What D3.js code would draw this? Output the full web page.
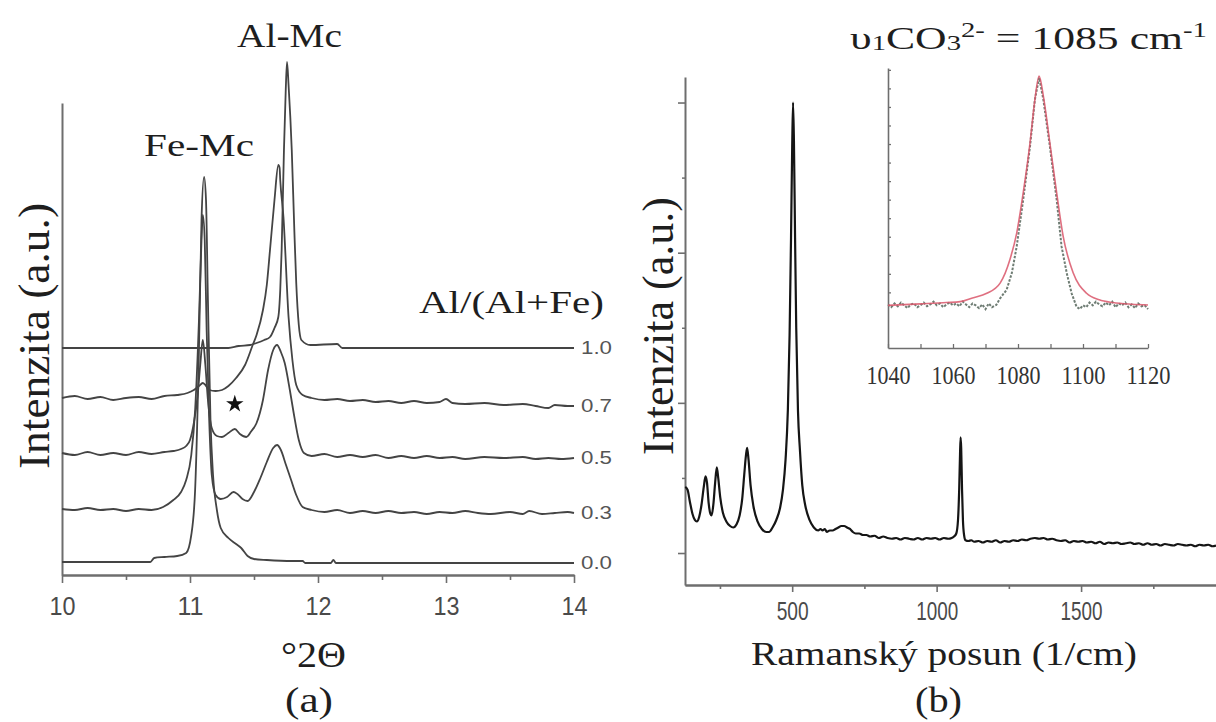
<!DOCTYPE html>
<html><head><meta charset="utf-8">
<script src="https://cdn.jsdelivr.net/npm/d3@7"></script>
<style>body{margin:0;background:#fff}svg{display:block}</style>
</head><body>
<svg id="c" width="1216" height="722"></svg>
<script>
// ---------------- DATA ----------------
// (a) XRD patterns, stacked (a.u.), x = °2Θ
const xrdLabels = ["1.0", "0.7", "0.5", "0.3", "0.0"];
const xrdTicks = [10, 11, 12, 13, 14];
const xrd10 = [[10,2270],[10.5,2270],[11,2270],[11.3,2270],[11.38,2290],[11.47,2300],[11.52,2320],[11.58,2350],[11.625,2380],[11.66,2470],[11.69,2580],[11.705,2850],[11.716,3250],[11.734,4250],[11.748,4850],[11.758,5130],[11.77,4900],[11.795,4250],[11.815,3450],[11.83,2920],[11.85,2500],[11.87,2350],[11.94,2300],[12.15,2310],[12.19,2270],[14,2270]];
const xrd07 = [[10,1770],[10.1,1790],[10.2,1760],[10.3,1780],[10.4,1750],[10.5,1770],[10.6,1780],[10.7,1760],[10.8,1790],[10.9,1800],[10.98,1820],[11.03,1850],[11.07,1890],[11.1,1920],[11.12,1900],[11.15,1850],[11.2,1840],[11.25,1850],[11.3,1890],[11.36,1970],[11.43,2100],[11.49,2300],[11.52,2400],[11.57,2650],[11.6,2900],[11.625,3250],[11.66,3750],[11.69,4100],[11.7,4070],[11.705,3950],[11.73,3580],[11.77,2580],[11.8,2150],[11.83,1900],[11.88,1800],[11.95,1770],[12.05,1750],[12.15,1760],[12.25,1740],[12.35,1750],[12.45,1730],[12.55,1740],[12.65,1720],[12.75,1740],[12.85,1720],[12.95,1730],[13,1760],[13.05,1720],[13.15,1710],[13.3,1720],[13.45,1700],[13.6,1710],[13.7,1690],[13.8,1670],[13.85,1700],[13.95,1690],[14,1690]];
const xrd05 = [[10,1220],[10.1,1200],[10.2,1230],[10.3,1200],[10.4,1220],[10.5,1200],[10.6,1230],[10.7,1210],[10.8,1230],[10.87,1240],[10.93,1260],[10.97,1290],[11,1350],[11.03,1520],[11.06,1800],[11.08,2100],[11.1,2350],[11.12,2100],[11.14,1750],[11.17,1470],[11.21,1390],[11.25,1380],[11.3,1420],[11.35,1460],[11.39,1410],[11.44,1380],[11.48,1440],[11.52,1520],[11.57,1750],[11.61,2050],[11.65,2250],[11.68,2300],[11.71,2230],[11.74,2120],[11.78,1850],[11.81,1620],[11.85,1350],[11.89,1220],[11.95,1190],[12.05,1210],[12.15,1180],[12.25,1200],[12.35,1180],[12.45,1200],[12.55,1170],[12.65,1190],[12.75,1170],[12.85,1190],[12.95,1170],[13.05,1180],[13.15,1160],[13.3,1180],[13.45,1170],[13.6,1180],[13.7,1160],[13.8,1170],[13.9,1160],[14,1170]];
const xrd03 = [[10,660],[10.1,650],[10.2,670],[10.3,650],[10.4,660],[10.5,640],[10.6,660],[10.7,650],[10.79,680],[10.87,750],[10.93,830],[10.97,950],[11.01,1200],[11.04,1650],[11.07,2550],[11.09,3350],[11.1,3600],[11.115,3350],[11.13,2450],[11.15,1550],[11.17,1000],[11.2,800],[11.24,760],[11.29,780],[11.34,830],[11.37,810],[11.41,760],[11.45,740],[11.5,830],[11.55,970],[11.6,1130],[11.65,1270],[11.68,1300],[11.71,1250],[11.75,1100],[11.79,950],[11.83,800],[11.88,680],[11.95,650],[12.05,630],[12.15,650],[12.25,620],[12.35,640],[12.45,620],[12.55,640],[12.65,620],[12.75,630],[12.85,610],[12.95,630],[13.05,620],[13.15,640],[13.25,620],[13.35,610],[13.5,630],[13.6,610],[13.65,640],[13.75,610],[13.85,620],[13.95,630],[14,620]];
const xrd00 = [[10,130],[10.3,130],[10.69,130],[10.72,170],[10.8,180],[10.9,190],[10.97,220],[11.01,400],[11.04,850],[11.07,2250],[11.09,3550],[11.11,3980],[11.125,3750],[11.14,2750],[11.16,1550],[11.18,1000],[11.21,650],[11.24,470],[11.3,370],[11.36,310],[11.4,270],[11.45,190],[11.5,160],[11.6,150],[11.8,140],[11.88,140],[11.9,120],[12.1,120],[12.12,150],[12.14,120],[14,120]];
const xrdSeries = [xrd10, xrd07, xrd05, xrd03, xrd00];
const starAt = [11.35, 1710];

// (b) Raman spectrum: [shift 1/cm, intensity a.u.]
const ramanTicks = [500, 1000, 1500];
const raman = [[130,0.44],[138,0.42],[146,0.34],[155,0.26],[163,0.22],[170,0.21],[178,0.24],[186,0.32],[194,0.44],[200,0.51],[205,0.47],[211,0.33],[217,0.26],[221,0.25],[227,0.32],[233,0.46],[239,0.57],[244,0.5],[251,0.37],[260,0.27],[272,0.21],[285,0.18],[296,0.17],[307,0.19],[318,0.25],[327,0.36],[334,0.52],[340,0.65],[344,0.7],[349,0.62],[356,0.45],[366,0.31],[380,0.21],[395,0.16],[410,0.14],[420,0.14],[432,0.17],[445,0.22],[458,0.3],[468,0.42],[477,0.62],[485,0.95],[491,1.45],[496,2.1],[500,2.7],[503,3.0],[506,2.75],[510,2.1],[514,1.5],[520,0.95],[527,0.68],[535,0.45],[545,0.32],[560,0.22],[575,0.17],[590,0.15],[598,0.16],[605,0.15],[613,0.16],[620,0.14],[630,0.15],[640,0.15],[650,0.16],[660,0.17],[670,0.18],[680,0.18],[690,0.17],[700,0.16],[710,0.14],[720,0.13],[732,0.13],[745,0.12],[757,0.12],[770,0.11],[785,0.115],[800,0.1],[815,0.11],[830,0.1],[845,0.095],[860,0.1],[875,0.09],[890,0.1],[905,0.095],[920,0.09],[935,0.1],[950,0.09],[965,0.1],[980,0.095],[995,0.1],[1010,0.09],[1025,0.1],[1040,0.095],[1052,0.1],[1060,0.11],[1068,0.13],[1074,0.22],[1078,0.42],[1081,0.66],[1083,0.77],[1085,0.7],[1088,0.42],[1091,0.22],[1095,0.12],[1100,0.085],[1110,0.08],[1120,0.085],[1130,0.075],[1145,0.08],[1160,0.07],[1175,0.08],[1190,0.075],[1205,0.085],[1220,0.07],[1235,0.08],[1250,0.075],[1265,0.085],[1280,0.08],[1295,0.09],[1310,0.085],[1325,0.095],[1340,0.1],[1355,0.095],[1370,0.1],[1385,0.09],[1400,0.095],[1415,0.085],[1430,0.08],[1445,0.085],[1460,0.07],[1475,0.08],[1490,0.075],[1505,0.08],[1520,0.07],[1535,0.075],[1550,0.065],[1565,0.075],[1580,0.06],[1595,0.07],[1610,0.065],[1625,0.07],[1640,0.06],[1655,0.065],[1670,0.07],[1685,0.06],[1700,0.065],[1715,0.055],[1730,0.065],[1745,0.055],[1760,0.06],[1775,0.05],[1790,0.06],[1805,0.055],[1820,0.05],[1835,0.06],[1850,0.055],[1865,0.05],[1880,0.055],[1895,0.045],[1910,0.055],[1925,0.05],[1940,0.055],[1955,0.045],[1967,0.05]];

// inset: measured band and fitted curve
const insetTicks = [1040, 1060, 1080, 1100, 1120];
const insetFit = [[1040,2.3],[1050,2.38],[1058,2.45],[1062.2,2.5],[1066,2.7],[1070.4,2.95],[1074.5,3.5],[1077.5,4.76],[1079.6,6.2],[1081.6,8.36],[1083.7,11.06],[1085.2,13.4],[1086.5,14.66],[1087.8,13.58],[1089.8,11.06],[1091.9,8.36],[1093.9,6.02],[1097,4.04],[1101.1,2.95],[1105,2.6],[1109.2,2.45],[1115,2.36],[1120,2.32]];
const insetData = [[1040,2.35],[1041,2.2],[1042,2.4],[1043,2.25],[1044,2.45],[1045,2.3],[1046,2.15],[1047,2.35],[1048,2.4],[1049,2.2],[1050,2.3],[1051,2.45],[1052,2.25],[1053,2.35],[1054,2.5],[1055,2.3],[1056,2.4],[1057,2.2],[1058,2.35],[1059,2.45],[1060,2.3],[1061,2.4],[1062,2.25],[1063,2.5],[1064,2.35],[1065,2.2],[1066,2.4],[1067,2.3],[1068,2.15],[1069,2.35],[1070,2.1],[1071,2.4],[1072,2.2],[1073.3,2.32],[1074.5,2.68],[1076.5,3.14],[1078.1,4.04],[1079.6,5.48],[1081.6,8.0],[1083.7,10.88],[1085.2,13.4],[1086.5,14.58],[1087.8,13.4],[1089.8,10.88],[1091.9,8.0],[1093.4,5.48],[1095,4.04],[1096.5,2.95],[1098,2.23],[1099,2.1],[1100,2.3],[1101,2.2],[1102,2.45],[1103,2.3],[1104,2.5],[1105,2.35],[1106,2.25],[1107,2.45],[1108,2.3],[1109,2.5],[1110,2.2],[1111,2.4],[1112,2.3],[1113,2.45],[1114,2.2],[1115,2.35],[1116,2.15],[1117,2.4],[1118,2.25],[1119,2.3],[1120,2.1]];

// ---------------- DRAW ----------------
const svg = d3.select("#c");
const SERIF = "'Liberation Serif','Times New Roman',Times,serif";
const SANS = "'Liberation Sans',Arial,sans-serif";
const AX = "#6e6e6e";
const fmtInt = d3.format("d");

function styleAxis(g, w) {
  g.select(".domain").attr("stroke", AX).attr("stroke-width", w);
  g.selectAll(".tick line").attr("stroke", AX).attr("stroke-width", w * 0.8);
}
function fitText(sel, x0, x1) {
  const w = sel.node().getBBox().width;
  sel.attr("x", 0).attr("text-anchor", "start")
     .attr("transform", `translate(${x0},0) scale(${(x1 - x0) / w},1)`);
}

// ===== Panel (a) =====
const xL = d3.scaleLinear([10, 14], [62, 574]);
const yL = d3.scaleLinear([0, 4720], [575, 103]);

const gxL = svg.append("g").attr("transform", "translate(0,575)")
  .call(d3.axisBottom(xL).tickValues([10.5, 11.5, 12.5, 13.5]).tickSize(5).tickFormat("").tickSizeOuter(0));
styleAxis(gxL, 2);
const gxL2 = svg.append("g").attr("transform", "translate(0,575)")
  .call(d3.axisBottom(xL).tickValues(xrdTicks).tickFormat(fmtInt).tickSize(8).tickSizeOuter(0));
styleAxis(gxL2, 2);
gxL2.selectAll(".tick text").attr("font-family", SANS).attr("font-size", 25).attr("fill", "#4a4a4a")
  .attr("dy", null).attr("y", 40).attr("textLength", 26).attr("lengthAdjust", "spacingAndGlyphs");
const gyL = svg.append("g").attr("transform", "translate(62,0)")
  .call(d3.axisLeft(yL).tickValues([]).tickSizeOuter(0));
styleAxis(gyL, 2);

const lineL = d3.line().x(d => xL(d[0])).y(d => yL(d[1])).curve(d3.curveMonotoneX);
svg.append("g").selectAll("path").data(xrdSeries).join("path")
  .attr("d", lineL).attr("fill", "none").attr("stroke", "#444").attr("stroke-width", 1.8);

svg.append("g").selectAll("text").data(xrdSeries).join("text")
  .attr("x", xL(14) + 7).attr("y", d => yL(d[d.length - 1][1]) + 6)
  .text((d, i) => xrdLabels[i])
  .attr("font-family", SANS).attr("font-size", 19).attr("fill", "#555")
  .attr("textLength", 31).attr("lengthAdjust", "spacingAndGlyphs");

svg.append("path").attr("d", d3.symbol(d3.symbolStar, 95)())
  .attr("transform", `translate(${xL(starAt[0])},${yL(starAt[1])})`).attr("fill", "#111");

// labels (a)
let t;
t = svg.append("text").attr("y", 47).attr("font-family", SERIF).attr("font-size", 33).attr("fill", "#1e1e1e").text("Al-Mc"); fitText(t, 237, 342);
t = svg.append("text").attr("y", 156).attr("font-family", SERIF).attr("font-size", 32).attr("fill", "#1e1e1e").text("Fe-Mc"); fitText(t, 144, 254);
t = svg.append("text").attr("y", 313).attr("font-family", SERIF).attr("font-size", 32).attr("fill", "#1e1e1e").text("Al/(Al+Fe)"); fitText(t, 419, 604);
t = svg.append("text").attr("y", 667).attr("font-family", SERIF).attr("font-size", 35).attr("fill", "#1e1e1e").text("°2Θ"); fitText(t, 281, 346);
t = svg.append("text").attr("y", 712).attr("font-family", SERIF).attr("font-size", 36).attr("fill", "#1e1e1e").text("(a)"); fitText(t, 285, 333);
svg.append("text").attr("transform", "translate(49,336) rotate(-90)").attr("text-anchor", "middle")
  .attr("font-family", SERIF).attr("font-size", 45).attr("fill", "#1e1e1e")
  .attr("textLength", 266).attr("lengthAdjust", "spacingAndGlyphs").text("Intenzita (a.u.)");

// ===== Panel (b) =====
const xR = d3.scaleLinear([129, 1967], [685, 1216]);
const yR = d3.scaleLinear([-0.213, 3.17], [585, 77]);

const gxR = svg.append("g").attr("transform", "translate(0,585)")
  .call(d3.axisBottom(xR).tickValues([250, 750, 1250, 1750]).tickSize(4).tickFormat("").tickSizeOuter(0));
styleAxis(gxR, 2);
const gxR2 = svg.append("g").attr("transform", "translate(0,585)")
  .call(d3.axisBottom(xR).tickValues(ramanTicks).tickFormat(fmtInt).tickSize(7).tickSizeOuter(0));
styleAxis(gxR2, 2);
gxR2.selectAll(".tick text").attr("font-family", SANS).attr("font-size", 25).attr("fill", "#4a4a4a")
  .attr("dy", null).attr("y", 35).attr("textLength", d => d >= 1000 ? 42 : 32).attr("lengthAdjust", "spacingAndGlyphs");
const gyR = svg.append("g").attr("transform", "translate(685,0)")
  .call(d3.axisLeft(yR).tickValues([0, 1, 2, 3]).tickSize(7).tickFormat("").tickSizeOuter(0));
styleAxis(gyR, 2);
const gyR2 = svg.append("g").attr("transform", "translate(685,0)")
  .call(d3.axisLeft(yR).tickValues([0.5, 1.5, 2.5]).tickSize(3).tickFormat("").tickSizeOuter(0));
gyR2.select(".domain").remove();
gyR2.selectAll(".tick line").attr("stroke", AX).attr("stroke-width", 1.5);

const lineR = d3.line().x(d => xR(d[0])).y(d => yR(d[1])).curve(d3.curveMonotoneX);
svg.append("path").datum(raman).attr("d", lineR).attr("fill", "none")
  .attr("stroke", "#151515").attr("stroke-width", 2.2).attr("stroke-linejoin", "round");

t = svg.append("text").attr("y", 665).attr("font-family", SERIF).attr("font-size", 34).attr("fill", "#1e1e1e").text("Ramanský posun (1/cm)"); fitText(t, 751, 1137);
t = svg.append("text").attr("y", 712).attr("font-family", SERIF).attr("font-size", 36).attr("fill", "#1e1e1e").text("(b)"); fitText(t, 915, 962);
svg.append("text").attr("transform", "translate(673,326) rotate(-90)").attr("text-anchor", "middle")
  .attr("font-family", SERIF).attr("font-size", 45).attr("fill", "#1e1e1e")
  .attr("textLength", 258).attr("lengthAdjust", "spacingAndGlyphs").text("Intenzita (a.u.)");

// title
const title = svg.append("text").attr("y", 49).attr("font-family", SERIF).attr("font-size", 32).attr("fill", "#1e1e1e");
title.append("tspan").text("υ");
title.append("tspan").attr("font-size", 21).attr("dy", 1).text("1");
title.append("tspan").attr("dy", -1).text("CO");
title.append("tspan").attr("font-size", 21).attr("dy", 1).text("3");
title.append("tspan").attr("font-size", 21).attr("dy", -13).text("2-");
title.append("tspan").attr("dy", 12).text(" = 1085 cm");
title.append("tspan").attr("font-size", 21).attr("dy", -12).text("-1");
fitText(title, 850, 1207);

// ===== Inset =====
const xI = d3.scaleLinear([1040, 1120], [888, 1148]);
const yI = d3.scaleLinear([0, 15.1], [348, 68]);
const gxI = svg.append("g").attr("transform", "translate(0,348)")
  .call(d3.axisBottom(xI).tickValues(d3.range(1040, 1121, 10)).tickSize(-4).tickSizeOuter(0).tickFormat(""));
styleAxis(gxI, 1.6);
const gxI2 = svg.append("g").attr("transform", "translate(0,348)")
  .call(d3.axisBottom(xI).tickValues(insetTicks).tickFormat(fmtInt).tickSize(0).tickSizeOuter(0));
gxI2.select(".domain").remove();
gxI2.selectAll(".tick text").attr("font-family", SERIF).attr("font-size", 26).attr("fill", "#333")
  .attr("dy", null).attr("y", 36).attr("textLength", 44).attr("lengthAdjust", "spacingAndGlyphs");
const gyI = svg.append("g").attr("transform", "translate(888,0)")
  .call(d3.axisLeft(yI).tickValues(d3.range(3, 16)).tickSize(-3).tickSizeOuter(0).tickFormat(""));
styleAxis(gyI, 1.6);

svg.append("path").datum(insetData).attr("d", d3.line().x(d => xI(d[0])).y(d => yI(d[1]))).attr("fill", "none")
  .attr("stroke", "#6f7d74").attr("stroke-width", 2).attr("stroke-dasharray", "2.5,1.5");
svg.append("path").datum(insetFit).attr("d", d3.line().x(d => xI(d[0])).y(d => yI(d[1])).curve(d3.curveMonotoneX)).attr("fill", "none")
  .attr("stroke", "#d9566a").attr("stroke-width", 1.6).attr("stroke-opacity", 0.85);
</script>
</body></html>
